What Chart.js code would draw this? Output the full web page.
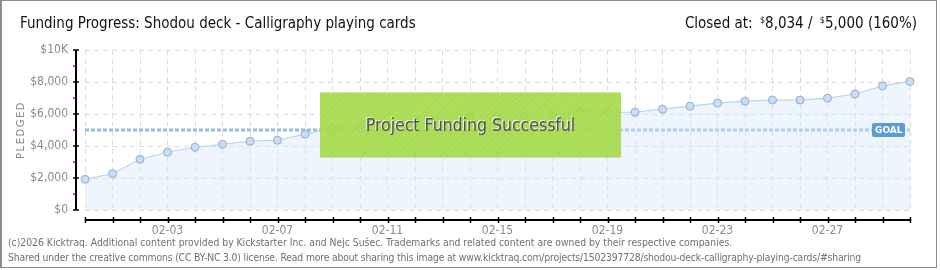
<!DOCTYPE html>
<html>
<head>
<meta charset="utf-8">
<script src="https://cdn.jsdelivr.net/npm/chart.js@4"></script>
<style>
    body { margin: 0; background: #fff; }
    #wrap { position: relative; width: 940px; height: 270px; overflow: hidden; }
    #frame { position: absolute; left: 0; top: 0; width: 934px; height: 266px; border: 1px solid #8c8c8c; border-left-width: 2px; }
    canvas { position: absolute; left: 0; top: 0; }
    .narrow { font-family: "Liberation Sans Narrow", "DejaVu Sans Condensed", sans-serif; }
    #title { position: absolute; left: 20px; top: 14px; font-size: 15px; color: #111; white-space: nowrap; }
    #closed { position: absolute; right: 23px; top: 14px; font-size: 15px; color: #111; white-space: nowrap; }
    #closed sup { font-size: 9px; vertical-align: 5px; margin-left: 3px; }
    #pledged { position: absolute; left: 20px; top: 130px; transform: translate(-50%, -50%) rotate(-90deg); font-size: 10px; letter-spacing: 1.5px; color: #888; font-family: "DejaVu Sans", sans-serif; }
    #success { position: absolute; left: 320px; top: 92px; width: 301px; height: 64px; border-top: 1px solid #c9ec8e; border-bottom: 1px solid #d4d9cc;
        background: repeating-linear-gradient(-45deg, rgba(168, 220, 78, 0.93) 0 3px, rgba(160, 212, 72, 0.93) 3px 4px);
        display: flex; align-items: center; justify-content: center; font-size: 17.5px; color: #505050; text-shadow: -1px -1px 0 #f4f4f4; }
    .foot { position: absolute; left: 8px; font-size: 10.3px; color: #707070; white-space: nowrap; }
</style>
</head>
<body>
<div id="wrap">
    <canvas id="fundingChart" width="940" height="270"></canvas>
    <div id="frame"></div>
    <div id="title" class="narrow">Funding Progress: Shodou deck - Calligraphy playing cards</div>
    <div id="closed" class="narrow">Closed at: <sup>$</sup>8,034 / <sup>$</sup>5,000 (160%)</div>
    <div id="pledged">PLEDGED</div>
    <div id="success" class="narrow">Project Funding Successful</div>
    <div class="foot narrow" style="top: 236px;">(c)2026 Kicktraq. Additional content provided by Kickstarter Inc. and Nejc Sušec. Trademarks and related content are owned by their respective companies.</div>
    <div class="foot narrow" style="top: 251px; letter-spacing: -0.15px;">Shared under the creative commons (CC BY-NC 3.0) license. Read more about sharing this image at www.kicktraq.com/projects/1502397728/shodou-deck-calligraphy-playing-cards/#sharing</div>
</div>
<script>
// Daily pledged totals (USD)
const days = ['01-31', '02-01', '02-02', '02-03', '02-04', '02-05', '02-06', '02-07', '02-08', '02-09',
    '02-10', '02-11', '02-12', '02-13', '02-14', '02-15', '02-16', '02-17', '02-18', '02-19',
    '02-20', '02-21', '02-22', '02-23', '02-24', '02-25', '02-26', '02-27', '02-28', '03-01', '03-02'];
const pledged = [1920, 2270, 3170, 3610, 3920, 4110, 4300, 4360, 4740, 5130,
    5140, 5350, 5600, 5760, 5820, 5880, 5890, 6010, 6170, 6100,
    6110, 6300, 6490, 6680, 6800, 6870, 6870, 6990, 7250, 7760, 8034];
const goal = 5000;
const yTicks = [0, 2000, 4000, 6000, 8000, 10000];

const tickFont = { family: '"Liberation Sans Narrow", "DejaVu Sans Condensed", sans-serif', size: 12 };

// axis lines sit a little off the plot area, like the kicktraq images
const axesPlugin = {
    id: 'kicktraqAxes',
    beforeDatasetsDraw(chart) {
        const { ctx, chartArea, scales } = chart;
        const gy = scales.y.getPixelForValue(goal);
        ctx.save();
        ctx.strokeStyle = '#96bce6';
        ctx.lineWidth = 3;
        ctx.setLineDash([4, 2]);
        ctx.beginPath();
        ctx.moveTo(chartArea.left, gy);
        ctx.lineTo(chartArea.right, gy);
        ctx.stroke();
        ctx.restore();
    },
    afterDatasetsDraw(chart) {
        const { ctx, chartArea, scales } = chart;
        const axX = chartArea.left - 9;
        const axY = chartArea.bottom + 10;
        ctx.save();
        ctx.strokeStyle = '#000';
        ctx.lineWidth = 2;
        ctx.beginPath();
        ctx.moveTo(axX, chartArea.top);
        ctx.lineTo(axX, chartArea.bottom);
        ctx.moveTo(chartArea.left, axY);
        ctx.lineTo(chartArea.right, axY);
        ctx.stroke();

        ctx.lineWidth = 1.5;
        yTicks.forEach(v => {
            const py = Math.round(scales.y.getPixelForValue(v));
            ctx.beginPath();
            ctx.moveTo(axX - 3, py);
            ctx.lineTo(axX + 3, py);
            ctx.stroke();
        });
        ctx.strokeStyle = '#e00000';
        yTicks.slice(1).forEach(v => {
            const py = Math.round(scales.y.getPixelForValue(v - 1000));
            ctx.beginPath();
            ctx.moveTo(axX - 3, py);
            ctx.lineTo(axX, py);
            ctx.stroke();
        });
        ctx.strokeStyle = '#000';
        days.forEach((d, i) => {
            const px = Math.round(scales.x.getPixelForValue(i)) + 0.5;
            ctx.beginPath();
            ctx.moveTo(px, axY - 3);
            ctx.lineTo(px, axY + 3);
            ctx.stroke();
        });

        // goal tag
        const gy = scales.y.getPixelForValue(goal);
        const tx = chartArea.right - 38;
        ctx.fillStyle = '#5b9bd9';
        ctx.beginPath();
        ctx.roundRect(tx, gy - 7, 33, 14, 2);
        ctx.fill();
        ctx.fillStyle = '#fff';
        ctx.font = 'bold 9px "DejaVu Sans", sans-serif';
        ctx.textBaseline = 'middle';
        ctx.fillText('GOAL', tx + 3, gy + 0.5);
        ctx.restore();
    }
};

new Chart(document.getElementById('fundingChart'), {
    type: 'line',
    data: {
        labels: days,
        datasets: [{
            label: 'Pledged',
            data: pledged,
            borderColor: '#b7d4f2',
            backgroundColor: 'rgba(214, 230, 248, 0.42)',
            borderWidth: 1.2,
            fill: 'origin',
            tension: 0,
            pointRadius: 4,
            pointBackgroundColor: '#c6ddf6',
            pointBorderColor: '#93acc9',
            pointBorderWidth: 1
        }]
    },
    options: {
        responsive: false,
        animation: false,
        layout: { padding: { top: 50, right: 30, left: 0, bottom: 0 } },
        plugins: { legend: { display: false }, tooltip: { enabled: false } },
        scales: {
            x: {
                offset: false,
                afterFit: s => { s.height = 60; },
                grid: { color: '#dcdcdc', drawTicks: false },
                border: { display: false, dash: [5, 4] },
                ticks: {
                    autoSkip: false,
                    maxRotation: 0,
                    padding: 14,
                    color: '#8a8a8a',
                    font: tickFont,
                    callback: (v, i) => (i % 4 === 3 ? days[i] : '')
                }
            },
            y: {
                min: 0,
                max: 10000,
                afterFit: s => { s.width = 85; },
                afterBuildTicks: s => { s.ticks = yTicks.map(v => ({ value: v })); },
                grid: { color: '#dcdcdc', drawTicks: false },
                border: { display: false, dash: [5, 4] },
                ticks: {
                    padding: 17,
                    color: '#8a8a8a',
                    font: tickFont,
                    callback: v => (v === 10000 ? '$10K' : '$' + v.toLocaleString('en-US'))
                }
            }
        }
    },
    plugins: [axesPlugin]
});
</script>
</body>
</html>
